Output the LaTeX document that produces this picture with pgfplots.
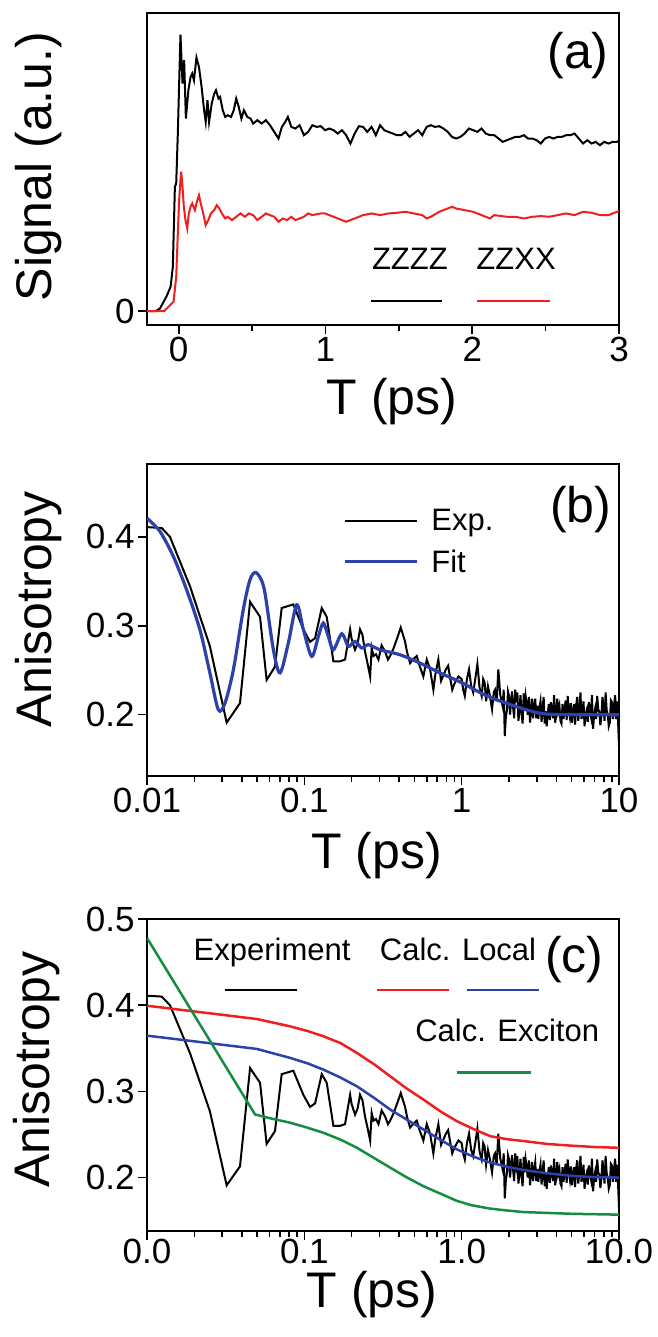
\documentclass[border=0pt]{standalone}
\usepackage{fontspec}
\setmainfont{Liberation Sans}
\usepackage{pgfplots}
\usepackage{pgfplotstable}
\pgfplotsset{compat=1.18}
\definecolor{cred}{RGB}{240,30,30}
\definecolor{cblue}{RGB}{45,65,170}
\definecolor{cgreen}{RGB}{20,140,65}

% Panel (a): T (ps), signal (a.u.)
\pgfplotstableread{
x y
-0.216 0
-0.156 0
-0.127 8
-0.084 43
-0.055 73
-0.040 133
-0.026 373
-0.017 383
-0.006 533
0.012 830
0.026 683
0.037 753
0.049 578
0.066 663
0.081 703
0.092 713
0.104 693
0.121 761
0.138 733
0.156 673
0.173 603
0.184 568
0.196 633
0.207 568
0.225 623
0.242 653
0.254 663
0.271 638
0.282 643
0.300 603
0.317 583
0.334 588
0.357 583
0.375 603
0.392 638
0.409 613
0.427 578
0.444 603
0.467 583
0.490 578
0.507 563
0.536 573
0.565 563
0.594 573
0.622 558
0.651 538
0.680 518
0.703 553
0.726 568
0.744 583
0.767 553
0.795 548
0.824 558
0.853 528
0.882 538
0.911 558
0.939 553
0.968 555
0.997 543
1.026 548
1.055 543
1.084 533
1.112 543
1.141 528
1.170 503
1.199 533
1.228 555
1.256 553
1.285 538
1.314 553
1.343 528
1.372 558
1.401 543
1.429 538
1.458 533
1.487 528
1.516 528
1.545 538
1.573 523
1.602 533
1.631 543
1.660 528
1.689 553
1.718 558
1.746 553
1.775 555
1.804 548
1.833 538
1.862 523
1.890 518
1.919 523
1.948 533
1.977 548
2.006 543
2.035 538
2.063 548
2.092 533
2.121 528
2.150 528
2.179 518
2.207 508
2.236 513
2.265 518
2.294 523
2.323 523
2.352 528
2.380 518
2.409 518
2.438 513
2.467 503
2.496 518
2.524 523
2.553 518
2.582 523
2.611 523
2.640 528
2.669 528
2.697 533
2.726 518
2.755 503
2.784 513
2.813 503
2.841 508
2.870 498
2.899 508
2.928 503
2.957 508
2.986 508
3.000 511
}\zzzz

\pgfplotstableread{
x y
-0.216 0
-0.098 0
-0.069 13
-0.035 28
-0.017 103
-0.006 233
0.003 333
0.012 393
0.017 418
0.026 373
0.035 313
0.046 273
0.058 248
0.069 293
0.081 313
0.092 323
0.110 303
0.127 333
0.138 348
0.150 323
0.167 293
0.184 258
0.202 273
0.219 293
0.242 303
0.259 318
0.277 308
0.294 293
0.317 278
0.334 283
0.363 273
0.392 283
0.421 293
0.450 283
0.478 293
0.507 288
0.536 273
0.565 283
0.594 293
0.622 288
0.651 283
0.680 268
0.709 278
0.738 273
0.767 283
0.795 273
0.824 278
0.853 283
0.882 293
0.911 288
0.968 293
0.997 293
1.026 288
1.055 283
1.084 278
1.112 273
1.141 268
1.170 273
1.199 278
1.228 283
1.256 288
1.314 293
1.372 288
1.429 293
1.487 295
1.545 298
1.602 293
1.660 288
1.689 278
1.718 283
1.775 298
1.833 308
1.862 313
1.890 308
1.948 303
2.006 298
2.063 288
2.121 278
2.150 288
2.236 283
2.294 283
2.352 278
2.409 283
2.467 285
2.524 283
2.582 288
2.640 293
2.697 288
2.755 298
2.813 295
2.870 288
2.928 288
2.986 298
3.000 300
}\zzxx

% Experimental anisotropy (panels b and c)
\pgfplotstableread{
x y
0.0100 0.411
0.0124 0.410
0.0140 0.400
0.0188 0.344
0.0251 0.277
0.0321 0.191
0.0390 0.213
0.0452 0.327
0.0523 0.310
0.0576 0.239
0.0651 0.254
0.0718 0.320
0.0851 0.324
0.0986 0.296
0.1087 0.282
0.117 0.286
0.129 0.320
0.1388 0.310
0.153 0.260
0.1686 0.260
0.1815 0.262
0.1954 0.296
0.200 0.285
0.210 0.273
0.218 0.280
0.226 0.296
0.234 0.290
0.243 0.271
0.252 0.258
0.262 0.243
0.268 0.275
0.275 0.266
0.285 0.268
0.296 0.262
0.310 0.278
0.326 0.271
0.340 0.262
0.351 0.266
0.370 0.275
0.396 0.290
0.410 0.298
0.437 0.282
0.450 0.270
0.470 0.258
0.490 0.262
0.518 0.266
0.540 0.255
0.571 0.243
0.600 0.262
0.630 0.251
0.661 0.228
0.680 0.245
0.711 0.262
0.740 0.238
0.794 0.251
0.820 0.255
0.871 0.228
0.900 0.235
0.955 0.243
1.000 0.240
1.023 0.228
1.047 0.221
1.080 0.240
1.114 0.251
1.150 0.232
1.184 0.225
1.220 0.240
1.259 0.257
1.300 0.230
1.34 0.221
1.37 0.240
1.40 0.236
1.43 0.215
1.469 0.232
1.51 0.222
1.56 0.206
1.60 0.225
1.63 0.228
1.67 0.215
1.71 0.251
1.76 0.222
1.82 0.210
1.85 0.228
1.88 0.176
1.91 0.198
1.94 0.205
1.97 0.226
2.0 0.221
2.03 0.200
2.06 0.214
2.09 0.226
2.12 0.210
2.155 0.196
2.19 0.228
2.225 0.214
2.26 0.225
2.295 0.193
2.33 0.205
2.365 0.222
2.40 0.202
2.44 0.190
2.48 0.224
2.515 0.206
2.55 0.221
2.59 0.212
2.63 0.200
2.675 0.220
2.72 0.191
2.76 0.205
2.80 0.218
2.845 0.196
2.89 0.210
2.935 0.218
2.98 0.196
3.025 0.210
3.07 0.195
3.12 0.207
3.17 0.215
3.22 0.192
3.27 0.206
3.32 0.220
3.37 0.190
3.42 0.204
3.47 0.187
3.52 0.200
3.58 0.212
3.635 0.194
3.69 0.214
3.75 0.205
3.81 0.196
3.87 0.222
3.93 0.191
3.99 0.200
4.05 0.218
4.11 0.204
4.18 0.210
4.245 0.193
4.31 0.190
4.375 0.212
4.44 0.195
4.51 0.206
4.58 0.216
4.65 0.194
4.72 0.221
4.79 0.207
4.87 0.198
4.945 0.213
5.02 0.191
5.10 0.203
5.18 0.212
5.26 0.189
5.34 0.210
5.425 0.220
5.51 0.193
5.60 0.206
5.69 0.225
5.775 0.195
5.86 0.203
5.95 0.215
6.04 0.187
6.13 0.200
6.23 0.205
6.33 0.192
6.43 0.214
6.53 0.204
6.63 0.198
6.73 0.222
6.84 0.184
6.945 0.199
7.05 0.206
7.16 0.195
7.27 0.221
7.385 0.206
7.50 0.203
7.615 0.188
7.73 0.199
7.85 0.220
7.97 0.210
8.09 0.193
8.22 0.225
8.35 0.205
8.48 0.200
8.61 0.187
8.74 0.191
8.88 0.216
9.02 0.214
9.16 0.195
9.3 0.210
9.45 0.222
9.6 0.195
9.7 0.215
9.8 0.205
9.9 0.185
10 0.165
}\expdata

\pgfplotstableread{
x y
0.0100 0.421
0.0121 0.406
0.0147 0.378
0.0179 0.340
0.0217 0.2955
0.0251 0.247
0.0284 0.2056
0.0313 0.213
0.0354 0.2506
0.0409 0.318
0.0450 0.351
0.0486 0.360
0.0525 0.354
0.0562 0.337
0.0636 0.273
0.0701 0.247
0.0791 0.2805
0.0895 0.3236
0.0987 0.2955
0.1114 0.2655
0.1228 0.288
0.132 0.303
0.142 0.288
0.153 0.273
0.173 0.291
0.1905 0.2768
0.210 0.2824
0.2317 0.275
0.2553 0.2787
0.3028 0.273
0.4055 0.2674
0.544 0.258
0.729 0.247
1.0 0.236
1.38 0.2228
1.88 0.2135
3.07 0.202
4.72 0.2
10 0.2
}\fitdata

\pgfplotstableread{
x y
0.0100 0.3994
0.0498 0.384
0.0811 0.3755
0.105 0.370
0.132 0.364
0.17 0.356
0.2155 0.3447
0.28 0.331
0.351 0.3176
0.45 0.303
0.571 0.2906
0.73 0.277
0.931 0.2655
1.2 0.256
1.52 0.248
1.95 0.2445
2.47 0.2424
3.5 0.239
5 0.237
7 0.2355
10 0.2345
}\localred

\pgfplotstableread{
x y
0.0100 0.3647
0.0498 0.3493
0.0811 0.3389
0.105 0.3325
0.132 0.3253
0.17 0.316
0.2155 0.306
0.28 0.292
0.351 0.279
0.45 0.267
0.571 0.2559
0.73 0.244
0.931 0.2328
1.2 0.224
1.52 0.2174
1.95 0.2125
2.47 0.2088
3.5 0.205
5 0.202
7 0.2005
10 0.200
}\localblue

\pgfplotstableread{
x y
0.0100 0.478
0.0486 0.2733
0.06 0.269
0.0811 0.2637
0.1 0.259
0.132 0.252
0.17 0.244
0.2155 0.2347
0.27 0.224
0.351 0.2116
0.44 0.201
0.571 0.190
0.72 0.182
0.931 0.173
1.15 0.168
1.52 0.164
1.9 0.162
2.47 0.160
3.5 0.159
5 0.158
10 0.157
}\exciton

\pgfplotsset{
  panel/.style={
    scale only axis, width=472pt, height=312pt,
    axis line style={line width=2.4pt},
    tick style={line width=1.6pt, black},
    major tick length=9pt, minor tick length=6pt,
    tick align=outside, xtick pos=bottom, ytick pos=left,
    ticklabel style={font=\fontsize{35}{40}\selectfont},
    label style={font=\fontsize{50}{60}\selectfont},
    /pgf/number format/assume math mode=true,
    clip=true,
  },
}
\tikzset{
  legtext/.style={font=\fontsize{31}{36}\selectfont},
  paneltext/.style={font=\fontsize{50}{60}\selectfont},
}

\begin{document}
\begin{tikzpicture}
\useasboundingbox (0pt,0pt) rectangle (657pt,-1337pt);

% ---------------- (a) ----------------
\begin{axis}[panel, at={(147pt,-13pt)}, anchor=north west,
  xmin=-0.216, xmax=3, ymin=-42, ymax=895,
  xtick={0,1,2,3}, minor xtick={0.5,1.5,2.5}, ytick={0},
  xlabel={T (ps)}, ylabel={Signal (a.u.)},
  xlabel style={at={(axis description cs:0.519,-0.244)}, anchor=center},
  ylabel style={at={(axis description cs:-0.229,0.508)}, anchor=center},
]
\addplot[black, line width=2pt] table[x=x,y=y] {\zzzz};
\addplot[cred, line width=2pt] table[x=x,y=y] {\zzxx};
\node[legtext] at (rel axis cs:0.557,0.212) {ZZZZ};
\node[legtext] at (rel axis cs:0.782,0.212) {ZZXX};
\draw[black, line width=2.5pt] (rel axis cs:0.475,0.077) -- (rel axis cs:0.625,0.077);
\draw[cred, line width=2.5pt] (rel axis cs:0.699,0.077) -- (rel axis cs:0.854,0.077);
\node[paneltext] at (rel axis cs:0.913,0.865) {(a)};
\end{axis}

% ---------------- (b) ----------------
\begin{axis}[panel, at={(147pt,-464pt)}, anchor=north west,
  xmode=log, xmin=0.01, xmax=10, ymin=0.131, ymax=0.482,
  xtick={0.01,0.1,1,10}, xticklabels={0.01,0.1,1,10},
  ytick={0.2,0.3,0.4}, yticklabels={0.2,0.3,0.4},
  xlabel={T (ps)}, ylabel={Anisotropy},
  xlabel style={at={(axis description cs:0.487,-0.256)}, anchor=center},
  ylabel style={at={(axis description cs:-0.229,0.534)}, anchor=center},
]
\addplot[black, line width=2pt] table[x=x,y=y] {\expdata};
\addplot[cblue, line width=3.2pt, smooth, tension=0.5] table[x=x,y=y] {\fitdata};
\draw[black, line width=2pt] (rel axis cs:0.419,0.818) -- (rel axis cs:0.572,0.818);
\draw[cblue, line width=3.2pt] (rel axis cs:0.419,0.687) -- (rel axis cs:0.572,0.687);
\node[legtext, anchor=base west] at (rel axis cs:0.595,0.786) {Exp.};
\node[legtext, anchor=base west] at (rel axis cs:0.595,0.652) {Fit};
\node[paneltext] at (rel axis cs:0.919,0.853) {(b)};
\end{axis}

% ---------------- (c) ----------------
\begin{axis}[panel, at={(147pt,-919pt)}, anchor=north west,
  xmode=log, xmin=0.01, xmax=10, ymin=0.138, ymax=0.5,
  xtick={0.01,0.1,1,10}, xticklabels={0.0,0.1,1.0,10.0},
  ytick={0.2,0.3,0.4,0.5}, yticklabels={0.2,0.3,0.4,0.5},
  xticklabel style={yshift=5pt},
  xlabel={T (ps)}, ylabel={Anisotropy},
  xlabel style={at={(axis description cs:0.477,-0.205)}, anchor=center},
  ylabel style={at={(axis description cs:-0.233,0.518)}, anchor=center},
]
\addplot[black, line width=2pt] table[x=x,y=y] {\expdata};
\addplot[cred, line width=2.5pt] table[x=x,y=y] {\localred};
\addplot[cblue, line width=2.5pt] table[x=x,y=y] {\localblue};
\addplot[cgreen, line width=2.5pt] table[x=x,y=y] {\exciton};
\node[legtext, anchor=base] at (rel axis cs:0.265,0.866) {Experiment};
\node[legtext, anchor=base] at (rel axis cs:0.659,0.866) {Calc. Local};
\node[legtext, anchor=base] at (rel axis cs:0.763,0.607) {Calc. Exciton};
\draw[black, line width=2pt] (rel axis cs:0.165,0.773) -- (rel axis cs:0.318,0.773);
\draw[cred, line width=2.5pt] (rel axis cs:0.487,0.773) -- (rel axis cs:0.640,0.773);
\draw[cblue, line width=2.5pt] (rel axis cs:0.678,0.773) -- (rel axis cs:0.831,0.773);
\draw[cgreen, line width=2.5pt] (rel axis cs:0.657,0.508) -- (rel axis cs:0.814,0.508);
\node[paneltext] at (rel axis cs:0.905,0.869) {(c)};
\end{axis}
\end{tikzpicture}
\end{document}
